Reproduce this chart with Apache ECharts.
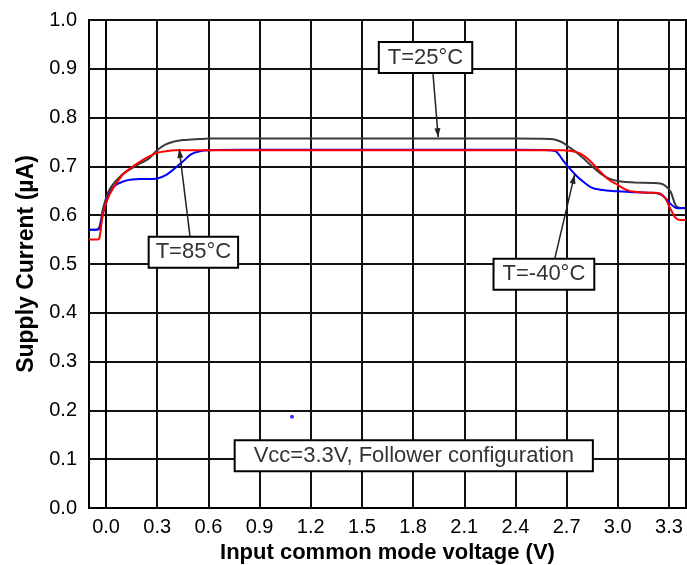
<!DOCTYPE html>
<html>
<head>
<meta charset="utf-8">
<script src="https://cdn.jsdelivr.net/npm/echarts@6/dist/echarts.min.js"></script>
<style>
html,body{margin:0;padding:0;background:#fff;}
#chart{width:687px;height:565px;}
</style>
</head>
<body>
<div id="chart"></div>
<script>
// ---- data ----
const voltage = [-0.1, -0.06, -0.04, -0.02, 0.0, 0.02, 0.05, 0.1, 0.15, 0.2, 0.25, 0.3, 0.35, 0.4, 0.45, 0.5, 0.55, 0.6, 0.8, 1.0, 1.5, 2.0, 2.4, 2.6, 2.64, 2.68, 2.72, 2.76, 2.8, 2.85, 2.9, 2.95, 3.0, 3.05, 3.1, 3.2, 3.25, 3.28, 3.31, 3.34, 3.37, 3.4];
const currentM40 = [0.570, 0.570, 0.572, 0.600, 0.625, 0.645, 0.660, 0.669, 0.673, 0.674, 0.674, 0.675, 0.682, 0.695, 0.710, 0.725, 0.731, 0.733, 0.734, 0.734, 0.734, 0.734, 0.734, 0.733, 0.730, 0.712, 0.695, 0.680, 0.668, 0.656, 0.652, 0.650, 0.649, 0.648, 0.647, 0.646, 0.643, 0.635, 0.623, 0.615, 0.614, 0.614];
const current25 = [0.570, 0.570, 0.575, 0.610, 0.635, 0.652, 0.667, 0.685, 0.696, 0.706, 0.716, 0.733, 0.745, 0.751, 0.754, 0.755, 0.756, 0.757, 0.757, 0.757, 0.757, 0.757, 0.757, 0.756, 0.754, 0.748, 0.738, 0.728, 0.716, 0.700, 0.685, 0.675, 0.670, 0.668, 0.667, 0.666, 0.665, 0.660, 0.648, 0.620, 0.615, 0.615];
const current85 = [0.550, 0.550, 0.552, 0.600, 0.625, 0.642, 0.660, 0.684, 0.698, 0.710, 0.720, 0.728, 0.731, 0.733, 0.733, 0.733, 0.733, 0.733, 0.733, 0.733, 0.733, 0.733, 0.733, 0.733, 0.733, 0.733, 0.732, 0.729, 0.722, 0.707, 0.688, 0.672, 0.662, 0.652, 0.648, 0.646, 0.644, 0.634, 0.612, 0.594, 0.590, 0.590];
const strayPoint = [[1.09, 0.187]];
const xTicks = [0.0, 0.3, 0.6, 0.9, 1.2, 1.5, 1.8, 2.1, 2.4, 2.7, 3.0, 3.3];
const labels = {
  t25: 'T=25°C',
  t85: 'T=85°C',
  tm40: 'T=-40°C',
  note: 'Vcc=3.3V, Follower configuration'
};

const pair = (ys) => voltage.map((v, i) => [v, ys[i]]);
const FONT = '"Liberation Sans", Arial, sans-serif';

const chart = echarts.init(document.getElementById('chart'), null, {renderer: 'canvas'});
const option = {
  animation: false,
  backgroundColor: '#fff',
  grid: {left: 89, right: 1, top: 20, bottom: 57, show: true, borderColor: '#000', borderWidth: 2, backgroundColor: 'transparent', outerBoundsMode: 'none', containLabel: false},
  xAxis: {
    type: 'value', min: -0.1, max: 3.4,
    name: 'Input common mode voltage (V)', nameLocation: 'middle', nameGap: 32,
    nameTextStyle: {fontFamily: FONT, fontSize: 22, fontWeight: 'bold', color: '#000'},
    axisLine: {show: true, lineStyle: {color: '#000', width: 2}},
    axisTick: {show: false, customValues: xTicks},
    axisLabel: {customValues: xTicks, formatter: v => v.toFixed(1), fontFamily: FONT, fontSize: 20, color: '#000', margin: 9},
    splitLine: {show: true, lineStyle: {color: '#111', width: 2}}
  },
  yAxis: {
    type: 'value', min: 0, max: 1, interval: 0.1,
    name: 'Supply Current (µA)', nameLocation: 'middle', nameGap: 46,
    nameTextStyle: {fontFamily: FONT, fontSize: 23, fontWeight: 'bold', color: '#000'},
    axisLine: {show: true, lineStyle: {color: '#000', width: 2}},
    axisTick: {show: false},
    axisLabel: {formatter: v => v.toFixed(1), fontFamily: FONT, fontSize: 20, color: '#000', margin: 12},
    splitLine: {show: true, lineStyle: {color: '#111', width: 2}}
  },
  series: [
    {name: 'T=25°C', type: 'line', data: pair(current25), showSymbol: false, smooth: 0.3, lineStyle: {color: '#3a3a3a', width: 2}, z: 3},
    {name: 'T=-40°C', type: 'line', data: pair(currentM40), showSymbol: false, smooth: 0.3, lineStyle: {color: '#0000ff', width: 2}, z: 4},
    {name: 'T=85°C', type: 'line', data: pair(current85), showSymbol: false, smooth: 0.3, lineStyle: {color: '#ff0000', width: 2}, z: 5},
    {type: 'scatter', data: strayPoint, symbolSize: 4, itemStyle: {color: '#0000ff'}, z: 5}
  ]
};
chart.setOption(option);

// annotations placed in data coordinates
const px = (p) => chart.convertToPixel({gridIndex: 0}, p);
function box(text, center, padH) {
  const c = px(center);
  return {
    type: 'text', x: c[0], y: c[1], z: 20,
    style: {
      text: text, fontFamily: FONT, fontSize: 22, fill: '#333',
      align: 'center', verticalAlign: 'middle',
      backgroundColor: '#fff', borderColor: '#000', borderWidth: 2,
      padding: [4, padH, 3, padH]
    }
  };
}
function arrow(from, to) {
  const a = px(from), b = px(to);
  const ang = Math.atan2(b[1] - a[1], b[0] - a[0]);
  const L = 9, W = 3;
  const p1 = [b[0] - L * Math.cos(ang) + W * Math.sin(ang), b[1] - L * Math.sin(ang) - W * Math.cos(ang)];
  const p2 = [b[0] - L * Math.cos(ang) - W * Math.sin(ang), b[1] - L * Math.sin(ang) + W * Math.cos(ang)];
  return [
    {type: 'line', z: 15, shape: {x1: a[0], y1: a[1], x2: b[0], y2: b[1]}, style: {stroke: '#222', lineWidth: 1.5}},
    {type: 'polygon', z: 15, shape: {points: [b, p1, p2]}, style: {fill: '#222'}}
  ];
}
chart.setOption({
  graphic: [
    ...arrow([1.917, 0.889], [1.947, 0.760]),
    ...arrow([0.492, 0.557], [0.429, 0.736]),
    ...arrow([2.630, 0.510], [2.747, 0.683]),
    box(labels.t25, [1.873, 0.923], 8),
    box(labels.t85, [0.512, 0.524], 6),
    box(labels.tm40, [2.567, 0.479], 8),
    box(labels.note, [1.804, 0.107], 18)
  ]
});
</script>
</body>
</html>
